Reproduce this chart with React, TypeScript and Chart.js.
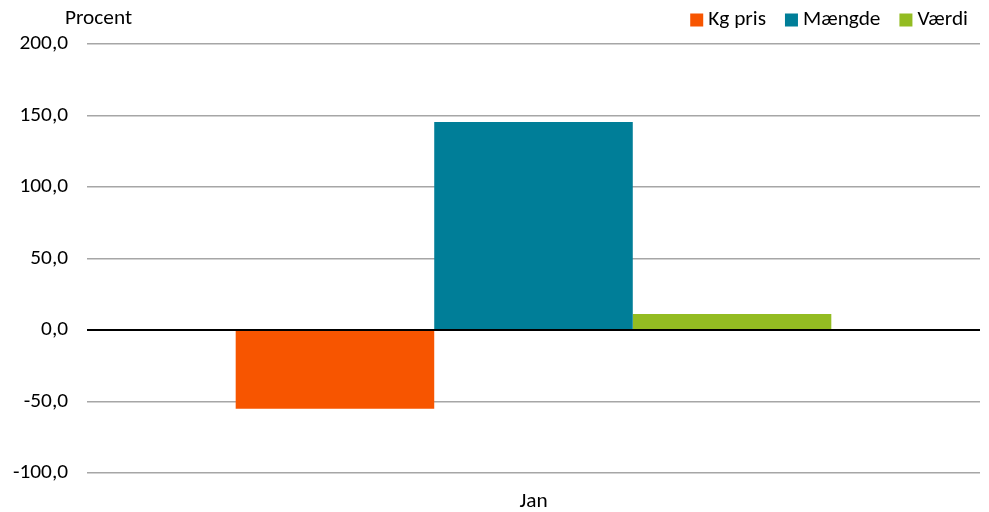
import React, { useEffect, useRef } from "react";
import { Chart, registerables } from "chart.js";

Chart.register(...registerables);

const categories = ["Jan"];
const seriesNames = ["Kg pris", "Mængde", "Værdi"];
const seriesColors = ["#F75500", "#007E98", "#93BC22"];
const kgPris = [-55.0];
const maengde = [145.5];
const vaerdi = [11.2];
const yTitle = "Procent";

const FONT = "Carlito, 'Open Sans', sans-serif";
const FS = 21.3;

export default function App() {
  const ref = useRef<HTMLCanvasElement | null>(null);

  useEffect(() => {
    document.body.style.margin = "0";
    const canvas = ref.current;
    if (!canvas) return;
    const decorPlugin = {
      id: "decor",
      afterDraw(chart: any) {
        const ctx = chart.ctx;
        ctx.save();
        ctx.font = `${FS}px ${FONT}`;
        ctx.fillStyle = "#000";
        ctx.textBaseline = "middle";
        ctx.textAlign = "left";
        ctx.fillText(yTitle, 65, 19);
        // legend, right aligned
        const box = 13;
        const gapBoxText = 5;
        const gapItems = 19;
        let x = 968;
        const cy = 20;
        for (let i = seriesNames.length - 1; i >= 0; i--) {
          const w = ctx.measureText(seriesNames[i]).width;
          x -= w;
          ctx.fillStyle = "#000";
          ctx.fillText(seriesNames[i], x, cy);
          x -= gapBoxText + box;
          ctx.fillStyle = seriesColors[i];
          ctx.fillRect(x, cy - box / 2, box, box);
          x -= gapItems;
        }
        ctx.restore();
      },
    };
    const values = [kgPris, maengde, vaerdi];
    const chart = new Chart(canvas, {
      type: "bar",
      data: {
        labels: categories,
        datasets: seriesNames.map((name, i) => ({
          label: name,
          data: values[i],
          backgroundColor: seriesColors[i],
          borderWidth: 0,
          barPercentage: 1,
          categoryPercentage: 0.667,
        })),
      },
      options: {
        animation: false,
        responsive: false,
        maintainAspectRatio: false,
        layout: { padding: { top: 44, right: 9, left: 0, bottom: 0 } },
        plugins: {
          legend: { display: false },
          tooltip: { enabled: false },
        },
        scales: {
          x: {
            grid: { display: false, drawTicks: false },
            border: { display: false },
            ticks: { color: "#000", padding: 16, font: { family: FONT, size: FS } },
            afterFit: (s: any) => {
              s.height = 39;
            },
          },
          y: {
            min: -100,
            max: 200,
            border: { display: false },
            grid: {
              drawTicks: false,
              color: (c: any) => (c.tick && c.tick.value === 0 ? "#000" : "#A6A6A6"),
              lineWidth: (c: any) => (c.tick && c.tick.value === 0 ? 2 : 1.5),
            },
            ticks: {
              stepSize: 50,
              padding: 19,
              color: "#000",
              font: { family: FONT, size: FS },
              callback: (v: any) => Number(v).toFixed(1).replace(".", ","),
            },
            afterFit: (s: any) => {
              s.width = 87;
            },
          },
        },
      },
      plugins: [decorPlugin],
    });
    return () => chart.destroy();
  }, []);

  return (
    <div style={{ width: 989, height: 512 }}>
      <canvas ref={ref} width={989} height={512} style={{ width: 989, height: 512 }} />
    </div>
  );
}
